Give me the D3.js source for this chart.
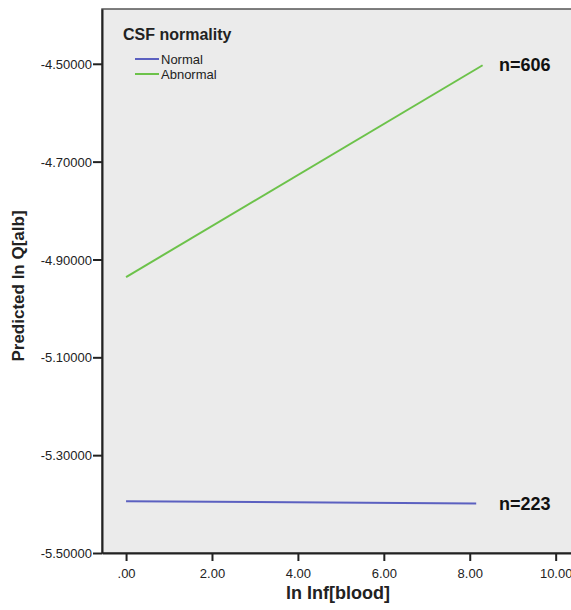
<!DOCTYPE html>
<html>
<head>
<meta charset="utf-8">
<script src="https://cdn.jsdelivr.net/npm/d3@7"></script>
<style>
  body { margin: 0; background: #fff; }
  text { font-family: "Liberation Sans", Arial, sans-serif; }
</style>
</head>
<body>
<div id="chart"></div>
<script>
const width = 571, height = 610;
const margin = {top: 9, right: -4, bottom: 57, left: 102};

// data
const groups = ["Normal", "Abnormal"];
const groupColors = ["#5b60c0", "#6cc24a"];
const lineX = [[0, 8.15], [0, 8.3]];
const lineY = [[-5.394, -5.399], [-4.936, -4.503]];
const nLabels = ["n=223", "n=606"];
const xTicks = [0, 2, 4, 6, 8, 10];
const yTicks = [-4.5, -4.7, -4.9, -5.1, -5.3, -5.5];

const svg = d3.select("#chart").append("svg")
    .attr("width", width)
    .attr("height", height);

const x = d3.scaleLinear()
    .domain([-0.56, 10.45])
    .range([margin.left, width - margin.right]);
const y = d3.scaleLinear()
    .domain([-5.5, -4.388])
    .range([height - margin.bottom, margin.top]);

// plot background
svg.append("rect")
    .attr("x", margin.left)
    .attr("y", margin.top)
    .attr("width", width - margin.left + 10)
    .attr("height", height - margin.bottom - margin.top)
    .attr("fill", "#ebebeb")
    .attr("stroke", "#555")
    .attr("stroke-width", 1.5);

// axes
const yAxis = svg.append("g")
    .attr("transform", "translate(" + margin.left + ",0)")
    .call(d3.axisLeft(y).tickValues(yTicks).tickSize(9).tickSizeOuter(0)
      .tickFormat(d => d.toFixed(5)));
const xAxis = svg.append("g")
    .attr("transform", "translate(0," + (height - margin.bottom) + ")")
    .call(d3.axisBottom(x).tickValues(xTicks).tickSize(8).tickSizeOuter(0)
      .tickFormat(d => d === 0 ? ".00" : d.toFixed(2)));

[xAxis, yAxis].forEach(function(a) {
  a.select(".domain").attr("stroke", "#222").attr("stroke-width", 2);
  a.selectAll(".tick line").attr("stroke", "#222").attr("stroke-width", 2);
  a.selectAll(".tick text")
    .attr("fill", "#222")
    .style("font-size", "13px")
    .style("font-family", "'Liberation Sans', Arial, sans-serif");
});
yAxis.selectAll(".tick text").attr("x", -10).attr("dy", "0.35em");
xAxis.selectAll(".tick text").attr("y", 16);

// axis titles
svg.append("text")
    .attr("transform", "translate(" + 24 + "," + 286 + ") rotate(-90)")
    .style("text-anchor", "middle")
    .style("font-size", "17px")
    .style("font-weight", "bold")
    .attr("fill", "#222")
    .text("Predicted ln Q[alb]");

svg.append("text")
    .attr("x", 338)
    .attr("y", 599)
    .style("text-anchor", "middle")
    .style("font-size", "18px")
    .style("font-weight", "bold")
    .attr("fill", "#222")
    .text("ln Inf[blood]");

// lines
const line = d3.line().x(d => x(d[0])).y(d => y(d[1]));
groups.forEach(function(g, i) {
  const pts = lineX[i].map((v, j) => [v, lineY[i][j]]);
  svg.append("path")
    .datum(pts)
    .attr("fill", "none")
    .attr("stroke", groupColors[i])
    .attr("stroke-width", 2)
    .attr("d", line);
  svg.append("text")
    .attr("x", 499)
    .attr("y", y(lineY[i][1]) + 6)
    .style("font-size", "18px")
    .style("font-weight", "bold")
    .attr("fill", "#111")
    .text(nLabels[i]);
});

// legend
svg.append("text")
    .attr("x", 123)
    .attr("y", 40)
    .style("font-size", "16px")
    .style("font-weight", "bold")
    .attr("fill", "#222")
    .text("CSF normality");

groups.forEach(function(g, i) {
  const ly = 59 + i * 15;
  svg.append("line")
    .attr("x1", 135).attr("x2", 159)
    .attr("y1", ly).attr("y2", ly)
    .attr("stroke", groupColors[i])
    .attr("stroke-width", 2);
  svg.append("text")
    .attr("x", 161)
    .attr("y", ly + 5)
    .style("font-size", "13px")
    .attr("fill", "#222")
    .text(g);
});
</script>
</body>
</html>
